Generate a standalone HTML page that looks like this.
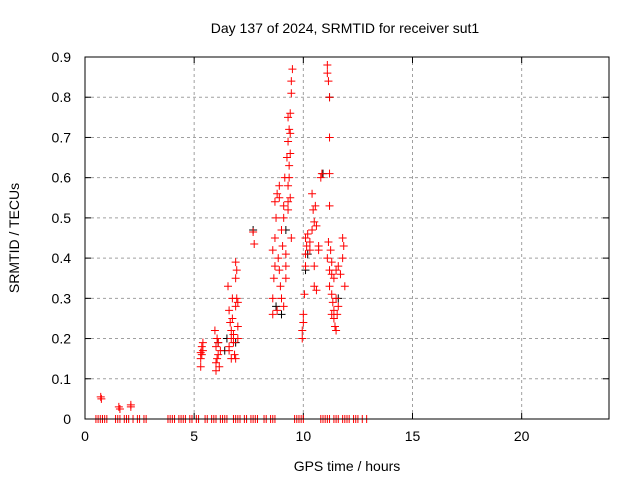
<!DOCTYPE html>
<html><head><meta charset="utf-8">
<style>
body{margin:0;background:#fff;}
svg{display:block;font-family:"Liberation Sans",sans-serif;}
</style></head>
<body>
<svg id="chart" width="640" height="480" xmlns="http://www.w3.org/2000/svg">
<rect width="640" height="480" fill="#fff"/>
<text x="345" y="33" text-anchor="middle" font-size="14">Day 137 of 2024, SRMTID for receiver sut1</text>
<text x="347" y="471" text-anchor="middle" font-size="14">GPS time / hours</text>
<text x="19" y="238" text-anchor="middle" font-size="14" transform="rotate(-90 19 238)">SRMTID / TECUs</text>
<g id="grid"></g><g id="ticks"></g><g id="marks"></g>
<rect x="85" y="57" width="524" height="362" fill="none" stroke="#000" stroke-width="1"/>
</svg>
<script>
const xTicks=[0,5,10,15,20];
const yTicks=[0,0.1,0.2,0.3,0.4,0.5,0.6,0.7,0.8,0.9];
const yTickLabels=["0","0.1","0.2","0.3","0.4","0.5","0.6","0.7","0.8","0.9"];
const redTimes=[0.72,0.75,1.55,1.6,2.1,2.1,
5.3,5.3,5.35,5.4,5.35,5.4,5.3,
5.95,6.0,6.0,6.05,6.1,6.0,6.1,6.05,6.15,6.2,
6.6,6.55,6.6,6.7,6.7,6.65,6.75,6.8,6.8,6.85,6.7,6.9,6.95,6.9,6.95,6.9,7.0,7.0,6.9,7.0,6.6,6.75,
7.7,7.75,
8.6,8.6,8.65,8.7,8.6,8.7,8.75,8.7,8.8,8.9,8.9,8.85,8.9,8.95,9.0,9.0,9.05,9.1,9.15,9.1,8.8,9.2,9.2,9.3,9.3,9.3,9.35,9.25,9.3,9.35,9.3,9.4,9.4,9.35,9.4,9.45,9.45,9.5,9.4,9.45,9.2,9.1,
9.95,9.95,10.0,10.0,10.05,10.1,10.1,10.15,10.1,10.2,10.3,10.3,10.4,10.5,10.45,10.55,10.4,10.6,10.5,10.6,10.5,10.7,10.8,10.85,10.7,
11.1,11.1,11.15,11.2,11.2,11.2,11.2,11.15,11.25,11.3,11.2,11.2,11.3,11.35,11.4,11.3,11.4,11.45,11.5,11.4,11.5,11.5,11.6,11.55,11.6,11.8,11.85,11.8,11.9,11.7,11.1,11.3];
const redValues=[0.055,0.05,0.03,0.025,0.035,0.03,
0.13,0.15,0.16,0.17,0.18,0.19,0.165,
0.22,0.12,0.14,0.15,0.16,0.18,0.19,0.2,0.13,0.17,
0.27,0.33,0.17,0.2,0.22,0.24,0.25,0.21,0.19,0.16,0.15,0.28,0.3,0.35,0.37,0.39,0.23,0.2,0.15,0.29,0.18,0.3,
0.465,0.435,
0.26,0.3,0.35,0.38,0.42,0.45,0.5,0.54,0.56,0.58,0.55,0.4,0.37,0.33,0.3,0.47,0.43,0.5,0.6,0.53,0.27,0.38,0.35,0.52,0.54,0.58,0.6,0.65,0.69,0.72,0.75,0.76,0.66,0.63,0.71,0.81,0.84,0.87,0.55,0.45,0.41,0.28,
0.2,0.22,0.24,0.26,0.31,0.38,0.41,0.43,0.45,0.46,0.42,0.44,0.47,0.49,0.52,0.53,0.56,0.48,0.38,0.32,0.33,0.43,0.6,0.61,0.42,
0.86,0.88,0.84,0.8,0.7,0.61,0.53,0.44,0.42,0.36,0.37,0.33,0.31,0.29,0.27,0.26,0.25,0.23,0.22,0.35,0.37,0.3,0.28,0.26,0.38,0.45,0.43,0.4,0.33,0.36,0.4,0.39];
const blackTimes=[9.0,8.75,10.1,10.2,6.5,6.4,6.9,11.2,11.6,7.7,9.2,10.9,0.8,6.1];
const blackValues=[0.26,0.28,0.37,0.41,0.2,0.17,0.19,0.8,0.3,0.47,0.47,0.61,0.0,0.19];
const zeroTimes=[0.5,0.6,0.7,0.8,0.9,1.0,1.4,1.5,1.6,1.8,1.9,2.0,2.2,2.4,2.5,2.7,2.8,3.8,3.9,4.0,4.1,4.3,4.4,4.5,4.6,4.8,4.9,5.1,5.2,5.5,5.6,5.8,5.9,6.0,6.2,6.3,6.4,6.5,6.8,6.9,7.0,7.1,7.3,7.4,7.6,7.7,7.8,7.9,8.2,8.3,8.5,8.6,8.7,9.6,9.7,9.8,9.9,10.0,10.8,10.9,11.0,11.1,11.2,11.4,11.5,11.6,11.8,11.9,12.0,12.1,12.3,12.4,12.5,12.7,12.9];
const NS="http://www.w3.org/2000/svg";
const X0=85,X1=609,Y0=419,Y1=57;
const xs=t=>X0+t/24*(X1-X0);
const ys=v=>Y0-v/0.9*(Y0-Y1);
function mk(tag,attrs,parent){const e=document.createElementNS(NS,tag);for(const k in attrs)e.setAttribute(k,attrs[k]);parent.appendChild(e);return e;}
const grid=document.getElementById('grid'),ticks=document.getElementById('ticks'),marks=document.getElementById('marks');
xTicks.forEach(t=>{const x=xs(t);
 if(t>0){const g=mk('line',{x1:x,x2:x,y1:Y0,y2:Y1,stroke:'#a0a0a0','stroke-dasharray':'3,3'},grid);
 
 }
 mk('line',{x1:x,x2:x,y1:Y0,y2:Y0-6,stroke:'#000'},ticks);
 mk('line',{x1:x,x2:x,y1:Y1,y2:Y1+6,stroke:'#000'},ticks);
 const l=mk('text',{x:x,y:Y0+22,'text-anchor':'middle','font-size':14},ticks);l.textContent=t;
 
 
});
yTicks.forEach((v,i)=>{const y=ys(v);
 if(i>0&&i<yTicks.length-1){const g=mk('line',{x1:X0,x2:X1,y1:y,y2:y,stroke:'#a0a0a0','stroke-dasharray':'3,3'},grid);
 
 }
 mk('line',{x1:X0,x2:X0+6,y1:y,y2:y,stroke:'#000'},ticks);
 mk('line',{x1:X1,x2:X1-6,y1:y,y2:y,stroke:'#000'},ticks);
 const l=mk('text',{x:X0-14,y:y+5,'text-anchor':'end','font-size':14},ticks);l.textContent=yTickLabels[i];
 
 
});
function plus(t,v,color,name){const x=xs(t),y=ys(v);
 const p=mk('path',{d:`M${x-4} ${y}H${x+4}M${x} ${y-4}V${y+4}`,stroke:color,'stroke-width':1,fill:'none'},marks);
 
 }
blackTimes.forEach((t,i)=>plus(t,blackValues[i],'#000','black-point'));
redTimes.forEach((t,i)=>plus(t,redValues[i],'#f00','red-point'));
zeroTimes.forEach(t=>plus(t,0,'#f00','zero-point'));
</script>
</body></html>
